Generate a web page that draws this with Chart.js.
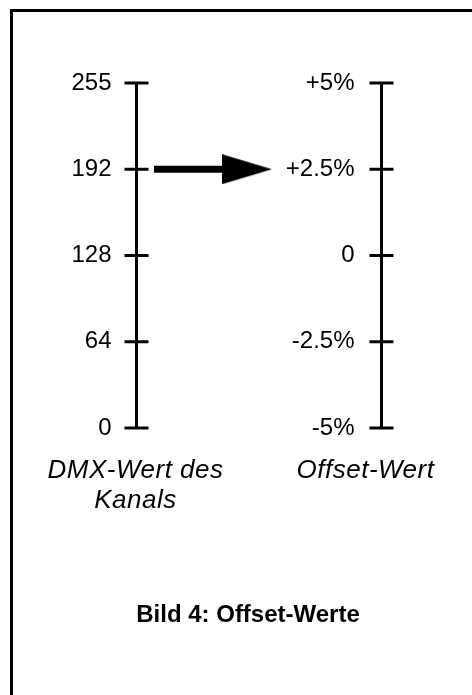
<!DOCTYPE html>
<html>
<head>
<meta charset="utf-8">
<script src="https://cdn.jsdelivr.net/npm/chart.js@4"></script>
<style>
  html, body { margin: 0; padding: 0; background: #fff; }
  #wrap { position: relative; width: 472px; height: 695px; overflow: hidden; }
  #frame { position: absolute; left: 10px; top: 9px; width: 600px; height: 800px;
           border-left: 3px solid #000; border-top: 3px solid #000; }
  #offsetchart { position: absolute; left: 0; top: 0; }
</style>
</head>
<body>
<div id="wrap">
  <div id="frame"></div>
  <canvas id="offsetchart" width="472" height="695"></canvas>
</div>
<script>
// values on the two scales, bottom to top
let dmx_values = [0, 64, 128, 192, 255];
let dmx_labels = ["0", "64", "128", "192", "255"];
let offset_values = [-5, -2.5, 0, 2.5, 5];
let offset_labels = ["-5%", "-2.5%", "0", "+2.5%", "+5%"];
let arrow_from = 192; // DMX value that maps to ...
let arrow_to = 2.5;   // ... this offset
let left_caption = ["DMX-Wert des", "Kanals"];
let right_caption = ["Offset-Wert"];
let figure_caption = "Bild 4: Offset-Werte";

// layout (pixels along the hidden x scale)
const LEFT_X = 136.5;
const RIGHT_X = 381.5;
const FONT = '"Liberation Sans", Arial, Helvetica, sans-serif';

// arrow head as an image point
function makeHead() {
  let c = document.createElement("canvas");
  c.width = 50;
  c.height = 30;
  let g = c.getContext("2d");
  g.fillStyle = "#000";
  g.beginPath();
  g.moveTo(0, 0);
  g.lineTo(50, 15);
  g.lineTo(0, 30);
  g.closePath();
  g.fill();
  return c;
}
const head = makeHead();

const fromIdx = dmx_values.indexOf(arrow_from);
const toIdx = offset_values.indexOf(arrow_to);

const captions = {
  id: "captions",
  afterDraw(chart) {
    const ctx = chart.ctx;
    const xs = chart.scales.x;
    ctx.save();
    ctx.fillStyle = "#000";
    ctx.textAlign = "center";
    ctx.textBaseline = "alphabetic";
    ctx.font = "italic 26px " + FONT;
    ctx.letterSpacing = "0.5px";
    left_caption.forEach((t, i) => {
      ctx.fillText(t, xs.getPixelForValue(LEFT_X) - 1, 478 + i * 30);
    });
    right_caption.forEach((t, i) => {
      ctx.fillText(t, xs.getPixelForValue(RIGHT_X) - 16, 478 + i * 30);
    });
    ctx.letterSpacing = "0px";
    ctx.font = "bold 24px " + FONT;
    ctx.fillText(figure_caption, 248, 622);
    ctx.restore();
  },
};

const axisLine = (x) => ({
  type: "line",
  data: [{ x: x, y: 0 }, { x: x, y: dmx_values.length - 1 }],
  borderColor: "#000",
  borderWidth: 3,
  pointRadius: 0,
  clip: false,
});
const tickMarks = (x, arr) => ({
  type: "scatter",
  data: arr.map((_, i) => ({ x: x, y: i })),
  pointStyle: "line",
  pointRadius: 12,
  borderColor: "#000",
  backgroundColor: "#000",
  borderWidth: 3,
  clip: false,
});

new Chart(document.getElementById("offsetchart"), {
  type: "line",
  data: {
    datasets: [
      axisLine(LEFT_X),
      axisLine(RIGHT_X),
      tickMarks(LEFT_X, dmx_values),
      tickMarks(RIGHT_X, offset_values),
      {
        type: "line",
        data: [
          { x: 154, y: fromIdx },
          { x: 247, y: toIdx },
        ],
        borderColor: "#000",
        borderWidth: 7,
        borderCapStyle: "butt",
        pointStyle: [false, head],
        pointRadius: [0, 5],
        clip: false,
      },
    ],
  },
  options: {
    responsive: false,
    animation: false,
    events: [],
    layout: { autoPadding: false, padding: { left: 0, right: 0, top: 83, bottom: 267 } },
    plugins: { legend: { display: false }, tooltip: { enabled: false } },
    scales: {
      x: { type: "linear", min: 0, max: 472, display: false },
      y: {
        type: "linear",
        min: 0,
        max: dmx_values.length - 1,
        position: { x: LEFT_X - 25 },
        grid: { display: false, drawTicks: false },
        border: { display: false },
        ticks: {
          stepSize: 1,
          padding: 0,
          color: "#000",
          font: { family: FONT, size: 24 },
          callback: (v) => dmx_labels[v],
        },
      },
      y2: {
        type: "linear",
        axis: "y",
        min: 0,
        max: offset_values.length - 1,
        position: { x: RIGHT_X - 27 },
        grid: { display: false, drawTicks: false },
        border: { display: false },
        ticks: {
          stepSize: 1,
          padding: 0,
          color: "#000",
          font: { family: FONT, size: 24 },
          callback: (v) => offset_labels[v],
        },
      },
    },
  },
  plugins: [captions],
});
</script>
</body>
</html>
